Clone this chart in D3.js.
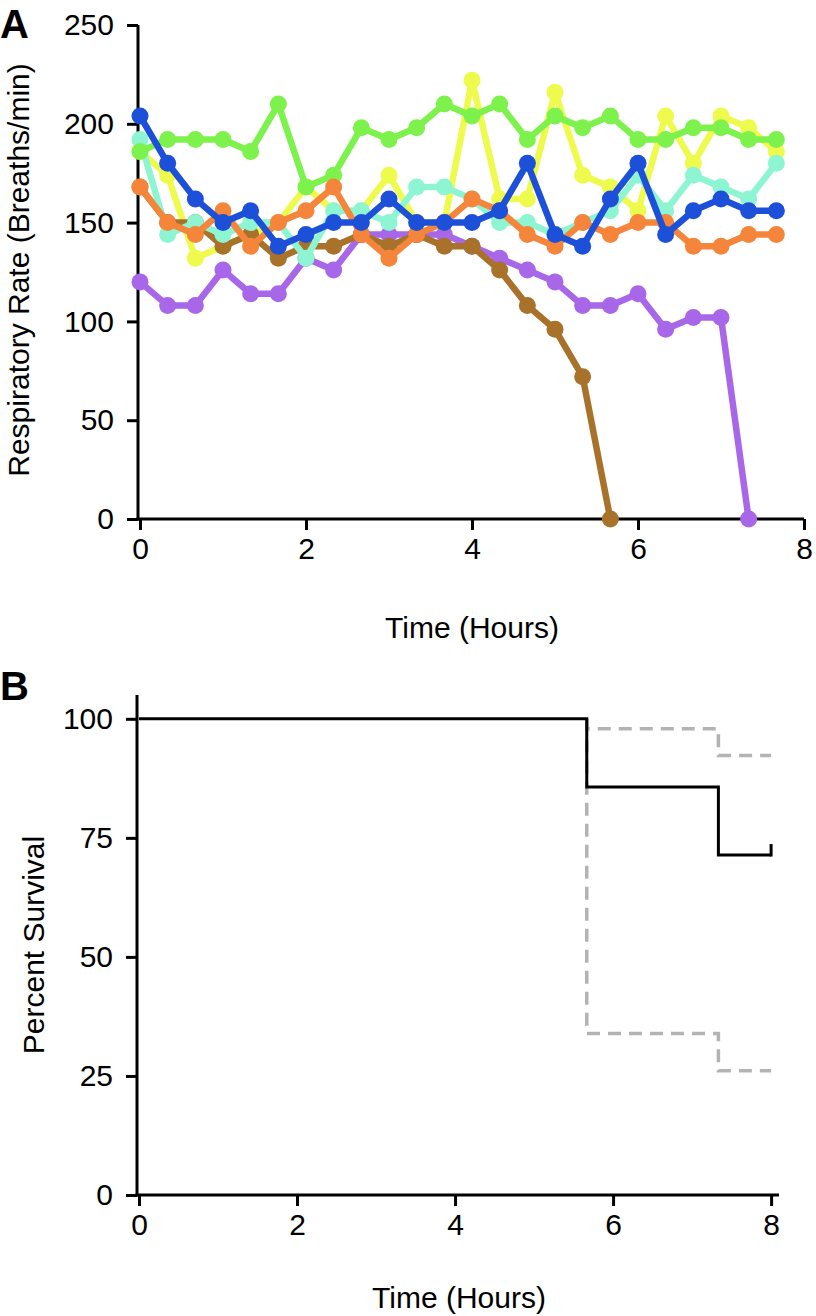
<!DOCTYPE html>
<html><head><meta charset="utf-8">
<script src="https://cdn.jsdelivr.net/npm/d3@7"></script>
<style>body{margin:0;background:#fff} text{font-family:"Liberation Sans",Arial,Helvetica,sans-serif}</style>
</head><body>
<svg id="c" width="816" height="1316"></svg>
<script>
// ---- Panel A data ----
const timePoints = [0,0.333,0.667,1,1.333,1.667,2,2.333,2.667,3,3.333,3.667,4,4.333,4.667,5,5.333,5.667,6,6.333,6.667,7,7.333,7.667];
const yellowRate = [186,174,132,138,144,150,168,156,156,174,150,150,222,162,162,216,174,168,156,204,180,204,198,186];
const purpleRate = [120,108,108,126,114,114,132,126,144,144,144,144,138,132,126,120,108,108,114,96,102,102,0];
const brownRate  = [168,150,150,138,144,132,138,138,144,138,144,138,138,126,108,96,72,0];
const aquaRate   = [192,144,150,144,150,150,132,156,156,150,168,168,162,150,150,144,150,156,174,156,174,168,162,180];
const greenRate  = [186,192,192,192,186,210,168,174,198,192,198,210,204,210,192,204,198,204,192,192,198,198,192,192];
const orangeRate = [168,150,144,156,138,150,156,168,144,132,144,150,162,156,144,138,150,144,150,150,138,138,144,144];
const blueRate   = [204,180,162,150,156,138,144,150,150,162,150,150,150,156,180,144,138,162,180,144,156,162,156,156];
const seriesValues = [yellowRate, purpleRate, brownRate, aquaRate, greenRate, orangeRate, blueRate];
const seriesColors = ["#eefa4c","#a866e8","#a8722b","#8ef5d2","#7ef24c","#f5853a","#1d50d8"];
const rateTicks = [0,50,100,150,200,250];
const hourTicks = [0,2,4,6,8];

// ---- Panel B data ----
const kmTimes = [0,5.667,7.333,8];
const kmSurvival = [100,85.7,71.4,71.4];
const ciTimes = [5.667,5.667,7.333,8];
const ciUpper = [100,97.9,92.3,92.3];
const ciLower = [100,33.9,26.1,26.1];
const censorTime = 8;
const survivalTicks = [0,25,50,75,100];

const svg = d3.select("#c");
const FS = 30, TS = 30;

function drawAxes(g, x, y, yTicks, xTicks, xAxisEnd, yTop) {
  const axisX = x.range()[0] - 2, axisY = y(0);
  g.append("line").attr("x1",axisX).attr("x2",axisX).attr("y1",yTop).attr("y2",axisY+1.5)
    .attr("stroke","#000").attr("stroke-width",3);
  g.append("line").attr("x1",axisX-1.5).attr("x2",xAxisEnd).attr("y1",axisY).attr("y2",axisY)
    .attr("stroke","#000").attr("stroke-width",3);
  const ya = g.append("g").attr("transform",`translate(${axisX},0)`)
    .call(d3.axisLeft(y).tickValues(yTicks).tickSize(11).tickPadding(13).tickSizeOuter(0));
  const xa = g.append("g").attr("transform",`translate(0,${axisY})`)
    .call(d3.axisBottom(x).tickValues(xTicks).tickSize(11).tickPadding(8).tickSizeOuter(0));
  [ya, xa].forEach(a => {
    a.select(".domain").remove();
    a.selectAll(".tick line").attr("stroke","#000").attr("stroke-width",3);
    a.selectAll(".tick text").attr("font-size",FS).attr("fill","#000")
      .style("font-family",'"Liberation Sans",Arial,sans-serif');
  });
}

// ---- Panel A ----
const xA = d3.scaleLinear().domain([0,8]).range([140,804]);
const yA = d3.scaleLinear().domain([0,250]).range([519,25]);
const gA = svg.append("g");
drawAxes(gA, xA, yA, rateTicks, hourTicks, xA(8), yA(250));

const lineA = d3.line().x((d,i)=>xA(timePoints[i])).y(d=>yA(d));
seriesValues.forEach((vals,k) => {
  const s = gA.append("g");
  s.append("path").datum(vals).attr("d",lineA).attr("fill","none")
    .attr("stroke",seriesColors[k]).attr("stroke-width",6.5).attr("stroke-linejoin","round");
  s.selectAll("circle").data(vals).join("circle")
    .attr("cx",(d,i)=>xA(timePoints[i])).attr("cy",d=>yA(d)).attr("r",8.5)
    .attr("fill",seriesColors[k]);
});

gA.append("text").attr("x",0).attr("y",38).attr("font-size",40).attr("font-weight","bold").text("A");
gA.append("text").attr("transform",`translate(${29},${(yA(0)+yA(250))/2 - 2}) rotate(-90)`)
  .attr("text-anchor","middle").attr("font-size",TS).text("Respiratory Rate (Breaths/min)");
gA.append("text").attr("x",(xA(0)+xA(8))/2).attr("y",638).attr("text-anchor","middle")
  .attr("font-size",TS).text("Time (Hours)");

// ---- Panel B ----
const xB = d3.scaleLinear().domain([0,8.1]).range([139,779]);
const yB = d3.scaleLinear().domain([0,105]).range([1195,695]);
const gB = svg.append("g");
drawAxes(gB, xB, yB, survivalTicks, hourTicks, xB(8.1), yB(105));

const stepLine = d3.line().curve(d3.curveStepAfter).x(d=>xB(d[0])).y(d=>yB(d[1]));
const dashAttrs = p => p.attr("fill","none").attr("stroke","#b3b3b3").attr("stroke-width",3.5)
  .attr("stroke-dasharray","13,8");
gB.append("path").datum(ciTimes.map((t,i)=>[t,ciUpper[i]])).attr("d",stepLine).call(dashAttrs);
gB.append("path").datum(ciTimes.map((t,i)=>[t,ciLower[i]])).attr("d",stepLine).call(dashAttrs);
gB.append("path").datum(kmTimes.map((t,i)=>[t,kmSurvival[i]])).attr("d",stepLine)
  .attr("fill","none").attr("stroke","#000").attr("stroke-width",3);
gB.append("line").attr("x1",xB(censorTime)).attr("x2",xB(censorTime))
  .attr("y1",yB(kmSurvival[kmSurvival.length-1])+1.5).attr("y2",yB(kmSurvival[kmSurvival.length-1]+2.3))
  .attr("stroke","#000").attr("stroke-width",3);

gB.append("text").attr("x",0).attr("y",700).attr("font-size",40).attr("font-weight","bold").text("B");
gB.append("text").attr("transform",`translate(${44},${(yB(0)+yB(105))/2}) rotate(-90)`)
  .attr("text-anchor","middle").attr("font-size",TS).text("Percent Survival");
gB.append("text").attr("x",(xB(0)+xB(8.1))/2).attr("y",1308).attr("text-anchor","middle")
  .attr("font-size",TS).text("Time (Hours)");
</script>
</body></html>
